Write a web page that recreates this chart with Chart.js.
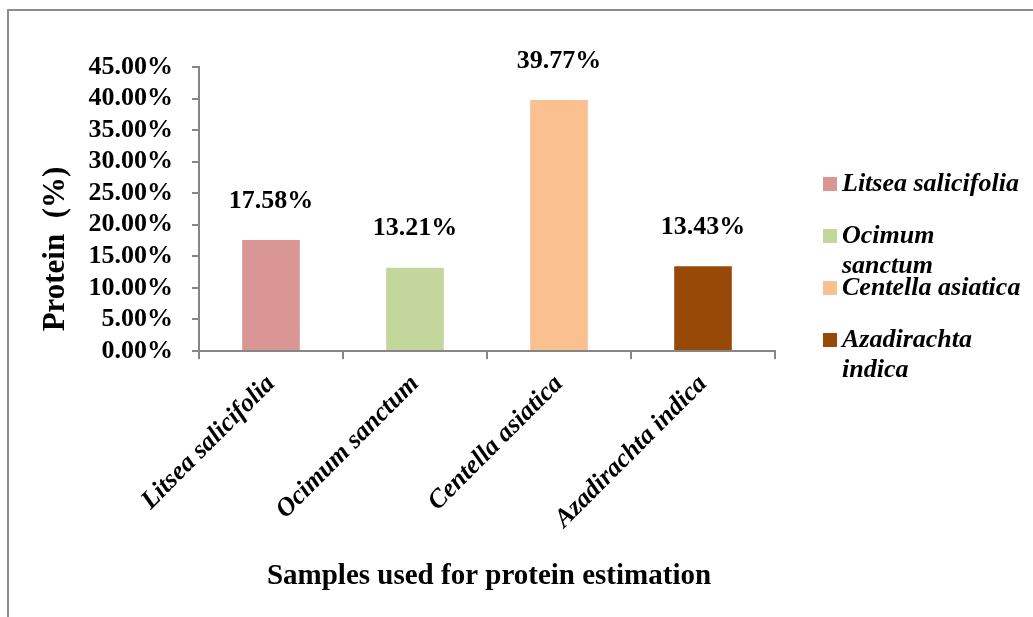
<!DOCTYPE html>
<html>
  <head>
    <meta charset="UTF-8" />
    <title>Protein estimation</title>
    <script src="https://cdn.jsdelivr.net/npm/chart.js"></script>
    <style>
      html, body {
        margin: 0;
        padding: 0;
        background: white;
        overflow: hidden;
      }
      .frame {
        position: absolute;
        left: 7px;
        top: 9px;
        width: 1200px;
        height: 800px;
        border: 2px solid #8c8c8c;
      }
      canvas {
        position: absolute;
        left: 0;
        top: 0;
      }
    </style>
  </head>
  <body>
    <div class="frame"></div>
    <canvas id="chart" width="1033" height="617"></canvas>

    <script>
      // data
      const samples = ["Litsea salicifolia", "Ocimum sanctum", "Centella asiatica", "Azadirachta indica"];
      const protein = [17.58, 13.21, 39.77, 13.43];
      const barColors = ["#d99694", "#c3d69b", "#fac090", "#984807"];
      const yTicks = [0, 5, 10, 15, 20, 25, 30, 35, 40, 45];
      const yTitle = "Protein  (%)";
      const xTitle = "Samples used for protein estimation";

      const FONT = "'Liberation Serif', 'Times New Roman', serif";
      const AXIS = "#868686";

      // value labels above the bars
      const valueLabels = {
        id: "valueLabels",
        afterDatasetsDraw(chart) {
          const ctx = chart.ctx;
          const meta = chart.getDatasetMeta(0);
          ctx.save();
          ctx.font = "bold 26px " + FONT;
          ctx.fillStyle = "#000";
          ctx.textAlign = "center";
          ctx.textBaseline = "middle";
          meta.data.forEach((bar, i) => {
            ctx.fillText(protein[i].toFixed(2) + "%", bar.x, bar.y - 39);
          });
          ctx.restore();
        },
      };

      // axis titles (placed like the Excel original)
      const axisTitles = {
        id: "axisTitles",
        afterDraw(chart) {
          const ctx = chart.ctx;
          ctx.save();
          ctx.fillStyle = "#000";
          ctx.textAlign = "center";
          ctx.textBaseline = "middle";
          ctx.font = "bold 29px " + FONT;
          ctx.fillText(xTitle, 489, 577);
          ctx.translate(56, 249);
          ctx.rotate(-Math.PI / 2);
          ctx.font = "bold 31px " + FONT;
          ctx.fillText(yTitle, 0, 0);
          ctx.restore();
        },
      };

      // legend on the right with wrapped labels
      const sideLegend = {
        id: "sideLegend",
        afterDraw(chart) {
          const ctx = chart.ctx;
          const x0 = 823;
          const maxW = 186;
          ctx.save();
          ctx.font = "italic bold 26px " + FONT;
          ctx.textBaseline = "middle";
          samples.forEach((name, i) => {
            const y = 184 + i * 52;
            ctx.fillStyle = barColors[i];
            ctx.fillRect(x0, y - 7, 14, 14);
            // simple word wrap
            const words = name.split(" ");
            const lines = [];
            let line = "";
            words.forEach((w) => {
              const test = line ? line + " " + w : w;
              if (line && ctx.measureText(test).width > maxW) {
                lines.push(line);
                line = w;
              } else {
                line = test;
              }
            });
            lines.push(line);
            ctx.fillStyle = "#000";
            lines.forEach((l, k) => ctx.fillText(l, x0 + 19, y + k * 30));
          });
          ctx.restore();
        },
      };

      const chart = new Chart(document.getElementById("chart"), {
        type: "bar",
        data: {
          labels: samples,
          datasets: [
            {
              data: protein,
              backgroundColor: barColors,
              categoryPercentage: 0.4,
              barPercentage: 1.0,
            },
          ],
        },
        options: {
          responsive: false,
          animation: false,
          layout: {
            padding: { left: 8, top: 67, right: 258, bottom: 0 },
          },
          plugins: {
            legend: { display: false },
            tooltip: { enabled: false },
          },
          scales: {
            x: {
              grid: {
                display: true,
                drawOnChartArea: false,
                drawTicks: true,
                tickLength: 8,
                color: AXIS,
                lineWidth: 2,
              },
              border: { color: AXIS, width: 2 },
              ticks: {
                autoSkip: false,
                minRotation: 45,
                maxRotation: 45,
                padding: 10,
                color: "#000",
                font: { family: FONT, size: 26, weight: "bold", style: "italic" },
              },
              afterFit(scale) {
                scale.height = 266;
              },
            },
            y: {
              min: 0,
              max: 45,
              afterBuildTicks(scale) {
                scale.ticks = yTicks.map((v) => ({ value: v }));
              },
              grid: {
                display: true,
                drawOnChartArea: false,
                drawTicks: true,
                tickLength: 7,
                color: AXIS,
                lineWidth: 2,
              },
              border: { color: AXIS, width: 2 },
              ticks: {
                autoSkip: false,
                padding: 19,
                color: "#000",
                font: { family: FONT, size: 26, weight: "bold" },
                callback: (v) => v.toFixed(2) + "%",
              },
              afterFit(scale) {
                scale.width = 191;
              },
            },
          },
        },
        plugins: [valueLabels, axisTitles, sideLegend],
      });
    </script>
  </body>
</html>
